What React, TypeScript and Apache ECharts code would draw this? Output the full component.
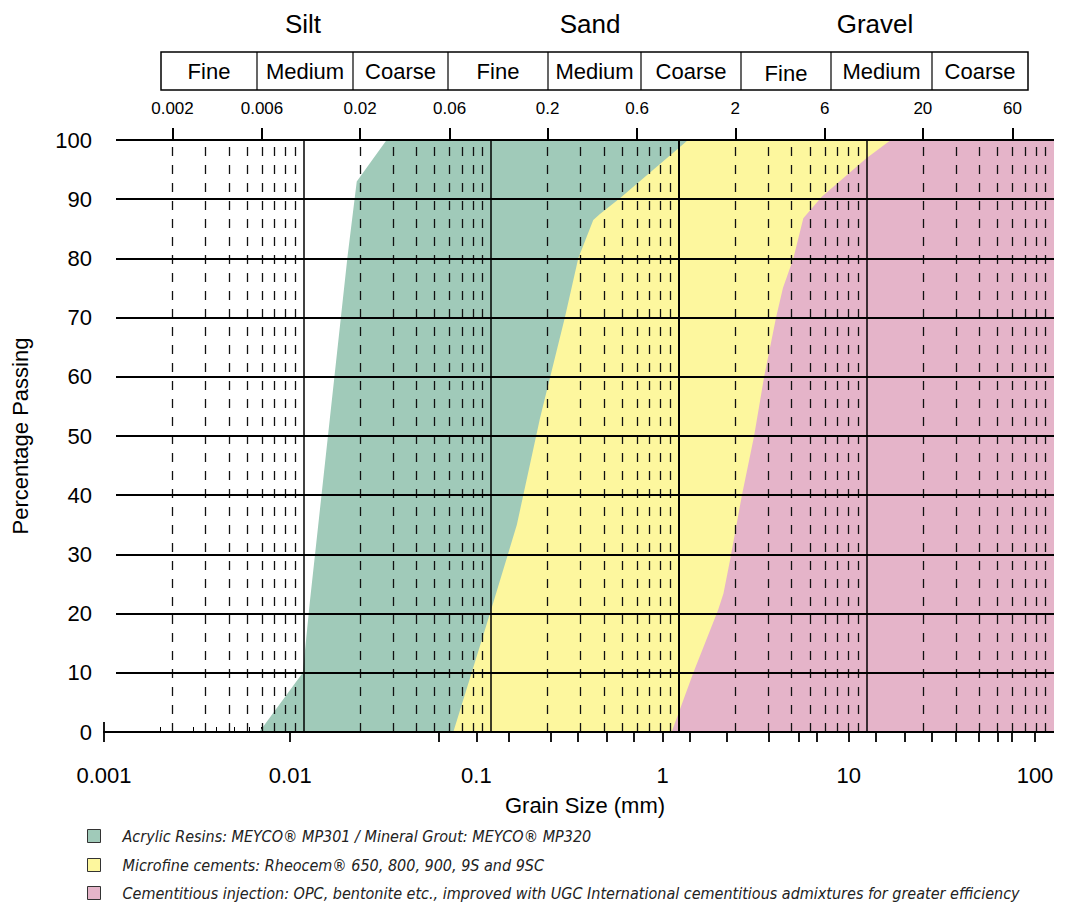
import React, { useEffect, useRef } from "react";
import * as echarts from "echarts";

// ---------- data ----------
const seriesNames = [
  "Acrylic Resins: MEYCO® MP301 / Mineral Grout: MEYCO® MP320",
  "Microfine cements: Rheocem® 650, 800, 900, 9S and 9SC",
  "Cementitious injection: OPC, bentonite etc., improved with UGC International cementitious admixtures for greater efficiency",
];
const seriesColors = ["#a0cab9", "#fdf79e", "#e5b4c9"];

// [grain size (mm), percentage passing] along the left boundary of each zone
const acrylicBoundary: number[][] = [
  [0.0058, 0], [0.0099, 10], [0.0108, 22], [0.0171, 80], [0.0192, 93], [0.0277, 100], [100, 100],
];
const microfineBoundary: number[][] = [
  [0.0628, 0], [0.0985, 20], [0.137, 35], [0.182, 53], [0.247, 70], [0.291, 80], [0.35, 86.5],
  [0.38, 87.5], [0.487, 90.2], [0.93, 97.8], [1.12, 100], [100, 100],
];
const cementBoundary: number[][] = [
  [0.916, 0], [1.195, 10], [1.62, 20.6], [1.73, 23.4], [1.875, 29], [2.17, 40], [2.52, 50],
  [2.85, 60], [3.3, 70], [3.59, 75], [4.08, 80], [4.61, 86.8], [5.78, 90.4], [10.0, 96.9], [13.5, 100], [100, 100],
];

const topTickSizes = [0.002, 0.006, 0.02, 0.06, 0.2, 0.6, 2, 6, 20, 60];
const bottomLongTickSizes = [
  0.001, 0.01, 0.063, 0.1, 0.15, 0.25, 0.35, 0.5, 0.7, 1, 1.4, 2.2, 3.7, 5.4, 6.7, 10, 14, 20, 28,
  37.5, 50, 63, 75, 100,
];
const gridDecades = [0.001, 0.01, 0.1, 1, 10];
const gridMultipliers = [2, 3, 4, 5, 6, 7, 8, 9];

const soilClasses = ["Silt", "Sand", "Gravel"];
const soilSubClasses = ["Fine", "Medium", "Coarse", "Fine", "Medium", "Coarse", "Fine", "Medium", "Coarse"];

// ---------- layout ----------
const FONT = "Liberation Sans, Arial, Helvetica, sans-serif";
const LEGEND_FONT = "Liberation Sans Narrow, DejaVu Sans Condensed, sans-serif";
const headerCellEdges = [161, 257, 353, 448, 548, 641, 741, 831, 932, 1028];
const headerClassX = [303, 590, 875];
const legendTops = [828, 857, 885];

const minorGridSizes: number[] = [];
gridDecades.forEach((d) => gridMultipliers.forEach((m) => minorGridSizes.push(+(d * m).toPrecision(3))));

const fmtSize = (e: number) => {
  const v = Math.pow(10, e);
  return String(+v.toPrecision(3));
};

export default function App() {
  const ref = useRef<HTMLDivElement>(null);
  useEffect(() => {
    if (!ref.current) return;
    const chart = echarts.init(ref.current, undefined, { renderer: "svg" });

    const graphic: any[] = [];
    soilClasses.forEach((t, i) =>
      graphic.push({
        type: "text",
        x: headerClassX[i],
        y: 24,
        style: { text: t, fontSize: 26, fontFamily: FONT, fill: "#000", align: "center", verticalAlign: "middle" },
      })
    );
    graphic.push({
      type: "rect",
      shape: { x: headerCellEdges[0], y: 52, width: headerCellEdges[9] - headerCellEdges[0], height: 38 },
      style: { fill: "none", stroke: "#000", lineWidth: 1.5 },
    });
    for (let i = 1; i < headerCellEdges.length - 1; i++) {
      graphic.push({
        type: "line",
        shape: { x1: headerCellEdges[i], y1: 52, x2: headerCellEdges[i], y2: 90 },
        style: { stroke: "#000", lineWidth: 1.2 },
      });
    }
    soilSubClasses.forEach((t, i) =>
      graphic.push({
        type: "text",
        x: (headerCellEdges[i] + headerCellEdges[i + 1]) / 2,
        y: i === 6 ? 73 : 71,
        style: { text: t, fontSize: 22, fontFamily: FONT, fill: "#000", align: "center", verticalAlign: "middle" },
      })
    );

    const areaSeries = [acrylicBoundary, microfineBoundary, cementBoundary].map((d, i) => ({
      name: seriesNames[i],
      type: "line",
      xAxisIndex: 0,
      yAxisIndex: 0,
      data: d,
      symbol: "none",
      showSymbol: false,
      silent: true,
      z: 1,
      itemStyle: { color: seriesColors[i] },
      lineStyle: { width: 0, color: seriesColors[i] },
      areaStyle: { color: seriesColors[i], opacity: 1 },
    }));

    const legends = seriesNames.map((n, i) => ({
      data: [n],
      orient: "vertical",
      left: 87,
      top: legendTops[i],
      icon: "rect",
      itemWidth: 13,
      itemHeight: 13,
      padding: 0,
      selectedMode: false,
      itemStyle: { borderColor: "#333", borderWidth: 1 },
      textStyle: {
        fontFamily: LEGEND_FONT,
        fontStyle: "italic",
        fontSize: 16,
        color: "#222",
        padding: [0, 0, 0, 17],
      },
    }));

    const sharedGrid = { left: 104, right: 36, top: 140, bottom: 170 };

    chart.setOption({
      animation: false,
      backgroundColor: "#fff",
      textStyle: { fontFamily: FONT },
      grid: [
        { left: 116, right: 17, top: 140, bottom: 170 },
        { ...sharedGrid },
        { ...sharedGrid, bottom: 180 },
        { ...sharedGrid, bottom: 175 },
      ],
      xAxis: [
        {
          type: "log",
          gridIndex: 0,
          logBase: 10,
          min: 0.001,
          max: 100,
          z: 10,
          axisLine: { show: false },
          axisTick: { show: false },
          axisLabel: { show: false },
          splitLine: { show: true, showMinLine: false, showMaxLine: false, lineStyle: { color: "#000", width: 1.5 } },
          name: "Grain Size (mm)",
          nameLocation: "middle",
          nameGap: 62,
          nameTextStyle: { fontSize: 22, color: "#000", fontFamily: FONT },
        },
        {
          type: "value",
          gridIndex: 0,
          position: "top",
          min: -3,
          max: 2,
          z: 10,
          axisLine: { show: false },
          axisTick: { show: true, length: 12, lineStyle: { color: "#000", width: 2 }, customValues: topTickSizes.map(Math.log10) },
          axisLabel: {
            show: true,
            customValues: topTickSizes.map(Math.log10),
            formatter: (v: number) => fmtSize(v),
            fontSize: 17,
            color: "#000",
            margin: 23,
            fontFamily: FONT,
          },
          splitLine: { show: false },
        },
        {
          type: "value",
          gridIndex: 1,
          min: -3,
          max: 2,
          interval: 1,
          axisLine: { show: true, lineStyle: { color: "#000", width: 2 } },
          axisTick: { show: false },
          axisLabel: { formatter: (v: number) => fmtSize(v), fontSize: 22, color: "#000", margin: 32, fontFamily: FONT },
          splitLine: { show: false },
        },
        {
          type: "value",
          gridIndex: 2,
          min: -3,
          max: 2,
          axisLine: { show: false },
          axisTick: {
            show: true,
            length: 20,
            lineStyle: { color: "#000", width: 1.8 },
            customValues: bottomLongTickSizes.map(Math.log10),
          },
          axisLabel: { show: false },
          splitLine: { show: false },
        },
        {
          type: "value",
          gridIndex: 3,
          min: -3,
          max: 2,
          axisLine: { show: false },
          axisTick: {
            show: true,
            length: 5,
            lineStyle: { color: "#000", width: 1 },
            customValues: minorGridSizes.map(Math.log10),
          },
          axisLabel: { show: false },
          splitLine: { show: false },
        },
      ],
      yAxis: [
        {
          type: "value",
          gridIndex: 0,
          min: 0,
          max: 100,
          interval: 10,
          z: 10,
          axisLine: { show: true, lineStyle: { color: "#000", width: 2 } },
          axisTick: { show: true, length: 11, lineStyle: { color: "#000", width: 1.5 } },
          axisLabel: { fontSize: 22, color: "#000", margin: 24, fontFamily: FONT },
          splitLine: { show: true, lineStyle: { color: "#000", width: 2 } },
          name: "Percentage Passing",
          nameLocation: "middle",
          nameGap: 85,
          nameTextStyle: { fontSize: 22, color: "#000", fontFamily: FONT },
        },
        { type: "value", gridIndex: 1, show: false, min: 0, max: 100 },
        { type: "value", gridIndex: 2, show: false, min: 0, max: 100 },
        { type: "value", gridIndex: 3, show: false, min: 0, max: 100 },
      ],
      legend: legends,
      graphic,
      series: [
        ...areaSeries,
        {
          name: "_minorGrid",
          type: "line",
          xAxisIndex: 0,
          yAxisIndex: 0,
          data: [],
          z: 6,
          silent: true,
          markLine: {
            silent: true,
            precision: 8,
            symbol: ["none", "none"],
            label: { show: false },
            lineStyle: { type: [9, 9], color: "#111", width: 1.3 },
            data: minorGridSizes.map((v) => ({ xAxis: v })),
          },
        },
      ],
    });
    return () => chart.dispose();
  }, []);
  return <div ref={ref} style={{ position: "fixed", left: 0, top: 0, width: 1071, height: 902 }} />;
}
